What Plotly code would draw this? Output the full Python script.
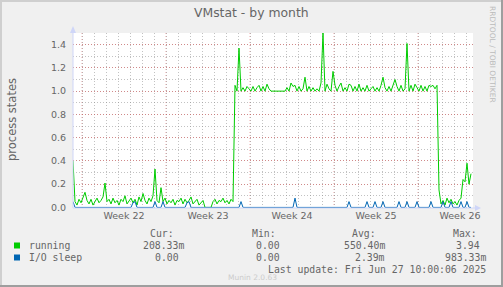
import plotly.graph_objects as go
import pandas as pd

# ---------------- data (4-hour samples, 2025-05-25 06:00 .. 2025-06-27 10:00) ----------------
running_low_start = [
    0.40, 0.05, 0.02, 0.07, 0.04, 0.08, 0.13, 0.06, 0.03, 0.07,
    0.02, 0.05, 0.08, 0.04, 0.06, 0.09, 0.21, 0.05, 0.07, 0.03,
    0.08, 0.04, 0.06, 0.02, 0.07, 0.05, 0.10, 0.03, 0.06, 0.08,
    0.04, 0.07, 0.02, 0.09, 0.05, 0.12, 0.06, 0.03, 0.08, 0.05,
    0.10, 0.33, 0.06, 0.04, 0.17, 0.05, 0.08, 0.03, 0.06, 0.04,
    0.07, 0.02, 0.06, 0.05, 0.08, 0.03, 0.07, 0.04, 0.06, 0.09,
    0.03, 0.05, 0.07, 0.02, 0.04, 0.06, 0.00, 0.00, 0.00, 0.00,
    0.05, 0.07, 0.03, 0.06, 0.05, 0.08, 0.04, 0.06, 0.03, 0.07, 0.05,
]
running_high = [
    1.05, 1.00, 1.37, 1.00, 1.03, 1.00, 1.04, 1.02, 1.00, 1.04,
    1.00, 1.03, 1.05, 1.00, 1.04, 1.00, 1.06, 1.02, 1.00, 1.00,
    1.00, 1.00, 1.00, 1.00, 1.00, 1.00, 1.03, 1.00, 1.07, 1.04,
    1.05, 1.00, 1.04, 1.00, 1.02, 1.12, 1.00, 1.04, 1.00, 1.03,
    1.00, 1.02, 1.00, 1.07, 1.50, 1.00, 1.06, 1.02, 1.00, 1.17,
    1.05, 1.00, 1.04, 1.07, 1.00, 1.03, 1.00, 1.06, 1.05, 1.00,
    1.04, 1.00, 1.06, 1.00, 1.03, 1.00, 1.05, 1.00, 1.02, 1.04,
    1.00, 1.03, 1.00, 1.05, 1.12, 1.03, 1.00, 1.04, 1.00, 1.06,
    1.10, 1.04, 1.00, 1.05, 1.00, 1.02, 1.41, 1.00, 1.05, 1.00,
    1.06, 1.03, 1.00, 1.05, 1.00, 1.04, 1.00, 1.05, 1.04, 1.05, 1.02, 1.05,
]
running_low_end = [
    0.15, 0.03, 0.06, 0.02, 0.08, 0.04, 0.07, 0.03, 0.05, 0.02,
    0.06, 0.08, 0.24, 0.22, 0.38, 0.20, 0.29,
]
# I/O sleep: zero except at these samples
io_spike_index = [0, 30, 31, 41, 45, 57, 58, 84, 111, 138, 147, 151, 155, 163, 167, 172, 179, 185, 189, 194, 197]
io_spike_value = [0.05, 0.04, 0.05, 0.05, 0.05, 0.04, 0.05, 0.05, 0.08, 0.05, 0.05, 0.05, 0.05, 0.05, 0.05, 0.05, 0.05, 0.05, 0.05, 0.05, 0.05]

week_starts = ["2025-05-26", "2025-06-02", "2025-06-09", "2025-06-16", "2025-06-23"]
week_labels = ["Week 22", "Week 23", "Week 24", "Week 25", "Week 26"]
y_ticks = [0.0, 0.2, 0.4, 0.6, 0.8, 1.0, 1.2, 1.4]

series_names = ["running", "I/O sleep"]
series_colors = ["#00CC00", "#0066B3"]
stat_cur = ["208.33m", "0.00"]
stat_min = ["0.00", "0.00"]
stat_avg = ["550.40m", "2.39m"]
stat_max = ["3.94", "983.33m"]

# ---------------- build ----------------
times = pd.date_range("2025-05-25 06:00", periods=200, freq="4h")
running = running_low_start + running_high + running_low_end
io_sleep = [0.0] * len(times)
for i, v in zip(io_spike_index, io_spike_value):
    io_sleep[i] = v

x_start = pd.Timestamp("2025-05-25 06:00")
x_end = pd.Timestamp("2025-06-27 14:00")
week_centers = [pd.Timestamp(w) + pd.Timedelta(hours=84) for w in week_starts]
days = pd.date_range("2025-05-26", "2025-06-27", freq="D")

W, H = 503, 287
L, R, T, B = 73, 473, 33, 208


def px(x):
    return (x - L) / (R - L)


def py(y):
    return (B - y) / (B - T)


FONT = "DejaVu Sans"
MONO = "DejaVu Sans Mono"
FC = "#666666"
GRID = "rgba(143,143,143,0.55)"
MGRID = "rgba(222,79,79,0.5)"
DASH = "1px,2px"

fig = go.Figure()
fig.add_trace(go.Scatter(x=times, y=running, mode="lines",
                         line=dict(color=series_colors[0], width=1), name=series_names[0]))
fig.add_trace(go.Scatter(x=times, y=io_sleep, mode="lines",
                         line=dict(color=series_colors[1], width=1), name=series_names[1]))

shapes = []
# week boundary major grid
for w in week_starts:
    shapes.append(dict(type="line", xref="x", yref="paper", x0=w, x1=w, y0=0, y1=1,
                       line=dict(color=MGRID, width=1, dash=DASH), layer="below"))
# axes + arrows
AX = "#CFD6F8"
shapes.append(dict(type="line", xref="paper", yref="paper", x0=0, x1=0, y0=0, y1=py(30),
                   line=dict(color=AX, width=1)))
shapes.append(dict(type="line", xref="paper", yref="paper", x0=0, x1=px(476), y0=0, y1=0,
                   line=dict(color=AX, width=1)))
shapes.append(dict(type="path", xref="paper", yref="paper",
                   path=f"M {px(70)} {py(33)} L {px(76)} {py(33)} L {px(73)} {py(26)} Z",
                   fillcolor=AX, line=dict(width=0)))
shapes.append(dict(type="path", xref="paper", yref="paper",
                   path=f"M {px(475)} {py(205)} L {px(475)} {py(211)} L {px(481)} {py(208)} Z",
                   fillcolor=AX, line=dict(width=0)))
# border shading
shapes.append(dict(type="rect", xref="paper", yref="paper", x0=px(0), x1=px(503), y0=py(0), y1=py(2),
                   fillcolor="#CFCFCF", line=dict(width=0)))
shapes.append(dict(type="rect", xref="paper", yref="paper", x0=px(0), x1=px(2), y0=py(0), y1=py(287),
                   fillcolor="#CFCFCF", line=dict(width=0)))
shapes.append(dict(type="rect", xref="paper", yref="paper", x0=px(0), x1=px(503), y0=py(285), y1=py(287),
                   fillcolor="#9E9E9E", line=dict(width=0)))
shapes.append(dict(type="rect", xref="paper", yref="paper", x0=px(501), x1=px(503), y0=py(0), y1=py(287),
                   fillcolor="#9E9E9E", line=dict(width=0)))
# legend squares
for k, c in enumerate(series_colors):
    yc = 245.5 + 12 * k
    shapes.append(dict(type="rect", xref="paper", yref="paper", x0=px(14), x1=px(20),
                       y0=py(yc + 3), y1=py(yc - 3), fillcolor=c, line=dict(width=0)))

ann = []


def text(t, x, y, size, xanchor="left", family=FONT, color=FC, angle=0):
    ann.append(dict(text=t, x=px(x), y=py(y), xref="paper", yref="paper", showarrow=False,
                    xanchor=xanchor, yanchor="middle", textangle=angle,
                    font=dict(family=family, size=size, color=color)))


text("VMstat - by month", 251, 13, 12.4, "center")
text("process states", 12, 120, 11.5, "center", angle=-90)
text("RRDTOOL / TOBI OETIKER", 493, 54, 7.5, "center", color="#BBBBBB", angle=90)
for h, xc in zip(["Cur:", "Min:", "Avg:", "Max:"], [162, 263.5, 363.5, 464.5]):
    text(h, xc, 233, 9.8, "center", family=MONO)
for k in range(2):
    yc = 245.5 + 12 * k
    text(series_names[k], 26.5, yc, 9.8, "left", family=MONO)
    text(stat_cur[k], 186 if stat_cur[k].endswith("m") else 181, yc, 9.8, "right", family=MONO)
    text(stat_min[k], 282, yc, 9.8, "right", family=MONO)
    text(stat_avg[k], 387, yc, 9.8, "right", family=MONO)
    text(stat_max[k], 488 if stat_max[k].endswith("m") else 482, yc, 9.8, "right", family=MONO)
text("Last update: Fri Jun 27 10:00:06 2025", 488, 269, 9.8, "right", family=MONO)
text("Munin 2.0.63", 252, 277, 7.5, "center", color="#CCCCCC")

fig.update_layout(
    width=W, height=H, autosize=False,
    margin=dict(l=L, r=W - R, t=T, b=H - B, pad=0),
    paper_bgcolor="#F0F0F0", plot_bgcolor="#FFFFFF",
    showlegend=False,
    shapes=shapes, annotations=ann,
    xaxis=dict(type="date", range=[x_start, x_end], tickmode="array",
               tickvals=week_centers, ticktext=week_labels, ticks="",
               showgrid=False, zeroline=False, showline=False,
               tickfont=dict(family=FONT, size=9.5, color=FC),
               minor=dict(tickmode="array", tickvals=list(days), showgrid=True,
                          gridcolor=GRID, griddash=DASH, gridwidth=1, ticks="")),
    yaxis=dict(range=[-0.005, 1.5], tickmode="array", tickvals=y_ticks,
               ticktext=[f"{v:.1f}" for v in y_ticks], ticks="",
               showgrid=True, gridcolor=MGRID, griddash=DASH, gridwidth=1,
               zeroline=False, showline=False, ticklabelstandoff=6,
               tickfont=dict(family=FONT, size=9.5, color=FC),
               minor=dict(dtick=0.1, tick0=0, showgrid=True, gridcolor=GRID,
                          griddash=DASH, gridwidth=1, ticks="")),
)

fig.write_html("out.html")
